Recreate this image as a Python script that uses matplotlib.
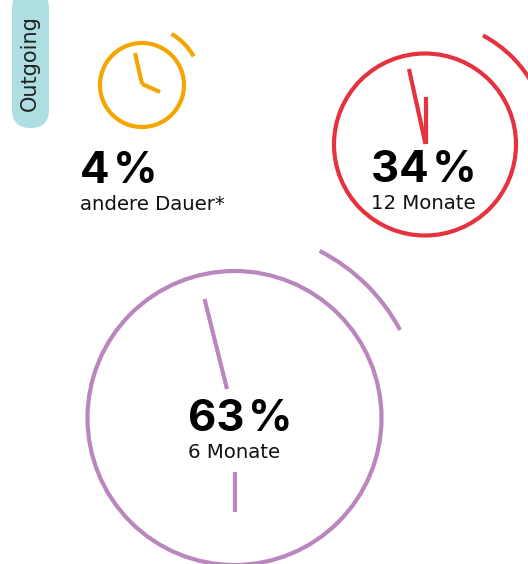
# Uhr-Kreise: Laufzeit der Verträge, Outgoing
from matplotlib import pyplot as plt
from matplotlib.patches import Circle, Arc, FancyBboxPatch

shares = [4, 34, 63]
labels = ['andere Dauer*', '12 Monate', '6 Monate']
colors = ['#f5a500', '#e4323f', '#b987bd']
side_label = 'Outgoing'

# Mittelpunkt und Radius der Kreise, Radius des Bogens (Pixel)
centers = [(142, 85), (425, 144.5), (234.5, 418)]
radii = [42, 91, 147]
arc_radii = [59, 123.5, 187.5]
arc_angles = [(29, 60), (28, 62), (28, 63)]
# Zeiger: je zwei Linien
hands = [
    [((135, 53), (142, 84)), ((142, 84), (160, 92))],
    [((409, 69), (425.5, 144)), ((425.5, 97), (425.5, 144))],
    [((204.5, 299), (227, 389)), ((234.7, 472), (234.7, 512))],
]
# Textposition: x, Basislinie Prozent, Basislinie Label
text_pos = [(80, 183, 210), (371, 182, 209), (188, 431, 458)]

plt.rcParams['font.family'] = ['Inter', 'DejaVu Sans']
fig = plt.figure(figsize=(5.28, 5.64), dpi=100)
ax = fig.add_axes([0, 0, 1, 1])
ax.set_xlim(0, 528)
ax.set_ylim(564, 0)
ax.axis('off')

lw = 3.0
for i in range(len(shares)):
    ax.add_patch(Circle(centers[i], radii[i], fill=False, ec=colors[i], lw=lw))
    # y-Achse ist invertiert, darum negative Winkel
    ax.add_patch(Arc(centers[i], 2*arc_radii[i], 2*arc_radii[i], theta1=-arc_angles[i][1],
                     theta2=-arc_angles[i][0], color=colors[i], lw=lw))
    for start, end in hands[i]:
        ax.plot([start[0], end[0]], [start[1], end[1]], color=colors[i], lw=lw, solid_capstyle='butt')
    x, y1, y2 = text_pos[i]
    ax.text(x, y1, '%d\u200a%%' % shares[i], fontsize=31.5, fontweight='bold', color='black', ha='left', va='baseline')
    ax.text(x, y2, labels[i], fontsize=14.2, family='DejaVu Sans', color='#111111', ha='left', va='baseline')

ax.add_patch(FancyBboxPatch((30.5, 8.5), 0, 101, boxstyle='round,pad=18.5,rounding_size=18.5',
                            fc='#aedde2', ec='none', clip_on=True))
ax.text(29.5, 63.5, side_label, rotation=90, fontsize=15, family='DejaVu Sans', color='#222222', ha='center', va='center')

plt.savefig('out.png', dpi=100)
